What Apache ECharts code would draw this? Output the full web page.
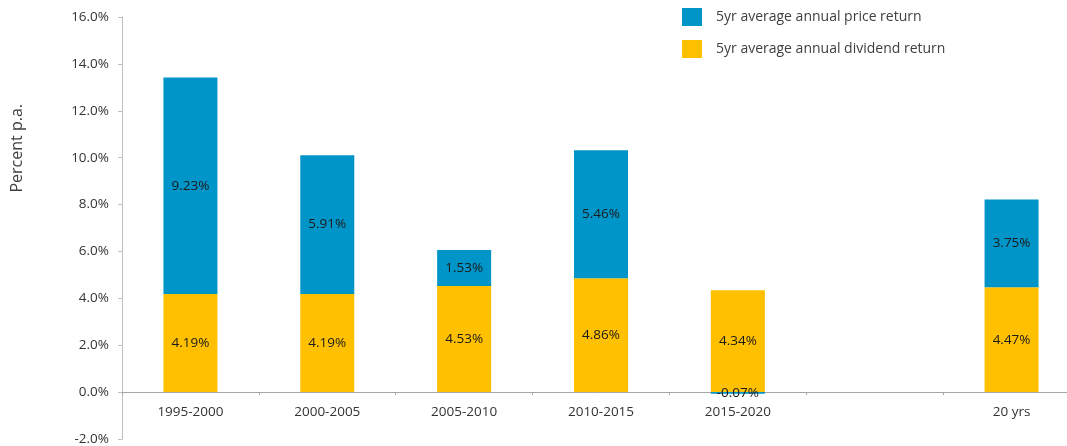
<!DOCTYPE html>
<html>
<head>
<meta charset="utf-8">
<script src="https://cdn.jsdelivr.net/npm/echarts@6/dist/echarts.min.js"></script>
<style>
html,body{margin:0;padding:0;background:#fff;}
#chart{width:1067px;height:446px;}
</style>
</head>
<body>
<div id="chart"></div>
<script>
// Five-year periods plus the 20-year summary (blank slot separates them)
const categories = ['1995-2000', '2000-2005', '2005-2010', '2010-2015', '2015-2020', '', '20 yrs'];
const dividendReturn = [4.19, 4.19, 4.53, 4.86, 4.34, null, 4.47];
const priceReturn = [9.23, 5.91, 1.53, 5.46, -0.07, null, 3.75];
const seriesNames = ['5yr average annual price return', '5yr average annual dividend return'];
const yTicks = { min: -2, max: 16, step: 2 };

const FONT = '"Open Sans", sans-serif';
const GRID = { left: 122, right: -13, top: 17, bottom: 7 };
const chart = echarts.init(document.getElementById('chart'));

// The category axis sits on the 0% line; its distance from the plot bottom
// follows from the value range and the plot height.
const plotHeight = 446 - GRID.top - GRID.bottom;
const zeroOffset = plotHeight * (0 - yTicks.min) / (yTicks.max - yTicks.min);

const valueLabel = {
  show: true,
  position: 'inside',
  formatter: p => p.value.toFixed(2) + '%',
  color: '#1a1a1a',
  fontFamily: FONT,
  fontSize: 13.5
};

chart.setOption({
  animation: false,
  textStyle: { fontFamily: FONT },
  legend: {
    data: seriesNames,
    orient: 'vertical',
    left: 677,
    top: 3,
    itemWidth: 20,
    itemHeight: 18,
    itemGap: 14,
    icon: 'rect',
    textStyle: { fontSize: 14, color: '#404040', padding: [0, 0, 0, 9] }
  },
  grid: Object.assign({ containLabel: false, outerBoundsMode: 'none' }, GRID),
  xAxis: {
    type: 'category',
    data: categories,
    position: 'bottom',
    offset: -zeroOffset,
    axisLine: { onZero: false, lineStyle: { color: '#a6a6a6' } },
    axisTick: { show: true, length: 3, lineStyle: { color: '#a6a6a6' } },
    axisLabel: { color: '#333', fontSize: 13.5, margin: 13, interval: 0 }
  },
  yAxis: {
    type: 'value',
    min: yTicks.min,
    max: yTicks.max,
    interval: yTicks.step,
    splitLine: { show: false },
    axisLine: { show: true, lineStyle: { color: '#bfbfbf' } },
    axisTick: { show: true, length: 4, lineStyle: { color: '#bfbfbf' } },
    axisLabel: { color: '#333', fontSize: 13.5, margin: 13, formatter: v => v.toFixed(1) + '%' }
  },
  graphic: [{
    type: 'text',
    left: 9,
    top: 104,
    rotation: Math.PI / 2,
    style: { text: 'Percent p.a.', font: '16px ' + FONT, fill: '#404040' }
  }],
  series: [
    {
      name: seriesNames[1],
      type: 'bar',
      stack: 'total',
      barWidth: 54,
      data: dividendReturn,
      itemStyle: { color: '#FFC000' },
      label: valueLabel
    },
    {
      name: seriesNames[0],
      type: 'bar',
      stack: 'total',
      barWidth: 54,
      data: priceReturn,
      itemStyle: { color: '#0095C8' },
      label: valueLabel
    }
  ]
});
</script>
</body>
</html>
